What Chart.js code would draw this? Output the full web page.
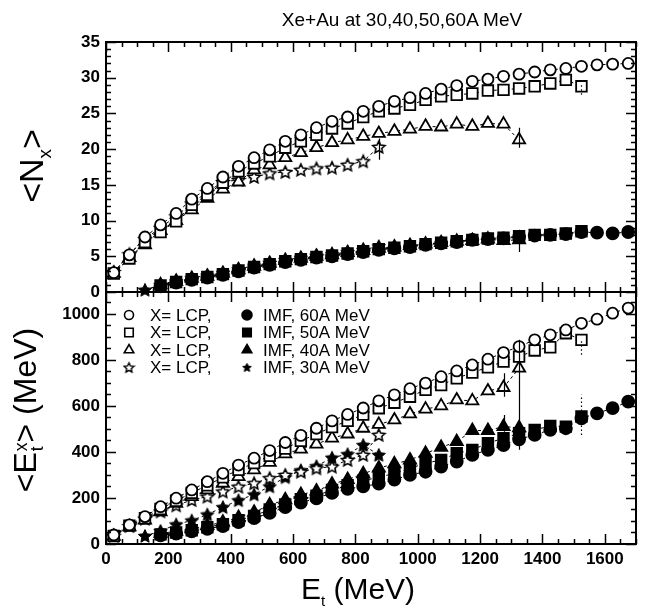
<!DOCTYPE html>
<html>
<head>
<meta charset="utf-8">
<script src="https://cdn.jsdelivr.net/npm/chart.js@4.4.0/dist/chart.umd.min.js"></script>
<style>
  body { margin: 0; background: #fff; }
  #wrap { position: relative; width: 655px; height: 610px; overflow: hidden;
          font-family: 'Liberation Sans', Arial, sans-serif; color: #000; }
  #wrap canvas { position: absolute; left: 0; top: 0; }
  .txt { position: absolute; white-space: nowrap; line-height: 1; }
  .rot { transform: translate(-50%, -50%) rotate(-90deg); }
  .ss { display: inline-block; vertical-align: -0.42em; font-size: 0.55em; line-height: 0.95; text-align: left; margin-left: 0.05em; }
  .ss span { display: block; }
</style>
</head>
<body>
<div id="wrap">
  <canvas id="bot" width="655" height="610"></canvas>
  <canvas id="top" width="655" height="310"></canvas>
  <div class="txt" style="left:402px; top:10px; font-size:19px; transform:translateX(-50%);">Xe+Au at 30,40,50,60A MeV</div>
  <div class="txt rot" style="left:34px; top:166px; font-size:34px;">&lt;N<sub style="font-size:0.55em;">x</sub>&gt;</div>
  <div class="txt rot" style="left:28px; top:410px; font-size:32px;">&lt;E<span class="ss"><span>x</span><span>t</span></span>&gt; (MeV)</div>
  <div class="txt" style="left:358px; top:574px; font-size:30px; transform:translateX(-50%);">E<sub style="font-size:0.5em;">t</sub> (MeV)</div>
</div>
<script>
// ---- data ----
const energies = [25, 75, 125, 175, 225, 275, 325, 375, 425, 475, 525, 575, 625, 675, 725, 775, 825,
                  875, 925, 975, 1025, 1075, 1125, 1175, 1225, 1275, 1325, 1375, 1425, 1475, 1525, 1575, 1625, 1675];

// <N_x>, LCP (open symbols)
const lcpN60 = [2.7, 5.2, 7.7, 9.4, 11.0, 13.0, 14.5, 16.1, 17.6, 18.8, 19.9, 21.1, 22.0, 23.0, 23.9, 24.5, 25.3,
                26.0, 26.7, 27.2, 27.8, 28.4, 28.9, 29.5, 29.8, 30.2, 30.5, 30.8, 31.1, 31.3, 31.6, 31.8, 31.9, 32.0];
const lcpN50 = [2.6, 4.7, 7.0, 8.4, 9.9, 12.2, 13.6, 15.3, 16.9, 18.0, 19.0, 20.2, 21.1, 22.0, 22.9, 23.6, 24.5,
                25.3, 25.7, 26.2, 26.9, 27.4, 27.6, 27.8, 28.2, 28.3, 28.5, 28.8, 29.2, 29.7, 28.8];
const lcpN40 = [2.6, 4.8, 6.6, 8.6, 10.0, 11.5, 13.1, 14.4, 15.4, 17.1, 17.8, 18.8, 19.5, 20.2, 20.9, 21.3, 21.8,
                22.2, 22.5, 22.8, 23.2, 23.1, 23.5, 23.2, 23.6, 23.5, 21.3];
const lcpN30 = [2.8, 5.3, 7.4, 9.0, 10.6, 12.4, 14.0, 15.4, 15.7, 16.1, 16.6, 16.8, 17.1, 17.3, 17.4, 17.8, 18.3, 20.3];

// <N_x>, IMF (filled symbols)
const imfN60 = [null, null, null, 0.8, 1.3, 1.7, 2.0, 2.4, 2.9, 3.4, 3.8, 4.2, 4.5, 4.8, 5.0, 5.3, 5.6,
                5.9, 6.1, 6.3, 6.6, 6.8, 7.0, 7.3, 7.4, 7.5, 7.7, 7.9, 8.0, 8.1, 8.4, 8.3, 8.2, 8.4];
const imfN50 = [null, null, null, 0.9, 1.4, 1.8, 2.1, 2.5, 3.0, 3.5, 3.9, 4.3, 4.6, 4.9, 5.1, 5.4, 5.7,
                6.0, 6.2, 6.4, 6.7, 6.9, 7.1, 7.3, 7.5, 7.6, 7.8, 8.0, 8.0, 8.2, 8.5];
const imfN40 = [null, null, null, 1.0, 1.5, 1.9, 2.2, 2.6, 3.1, 3.6, 4.0, 4.4, 4.7, 5.0, 5.2, 5.5, 5.8,
                6.1, 6.3, 6.5, 6.7, 6.9, 7.1, 7.2, 7.4, 7.2, 7.3];
const imfN30 = [null, null, 0.3, 1.0, 1.5, 2.0, 2.3, 2.7, 3.2, 3.7, 4.1, 4.5, 4.8, 5.1, 5.3, 5.6, 5.9, 6.4];

// <E_t^x> (MeV), LCP
const lcpE60 = [39, 83, 119, 162, 199, 235, 271, 307, 343, 373, 406, 441, 472, 503, 535, 563, 591,
                622, 648, 675, 699, 727, 752, 778, 803, 832, 858, 887, 909, 930, 959, 977, 1003, 1025];
const lcpE50 = [35, 80, 112, 152, 188, 222, 255, 290, 322, 352, 383, 415, 448, 478, 508, 535, 562,
                590, 614, 640, 670, 691, 720, 745, 768, 793, 814, 841, 855, 916, 887];
const lcpE40 = [33, 75, 104, 140, 177, 206, 235, 264, 293, 322, 355, 392, 412, 434, 460, 478, 503,
                520, 539, 565, 586, 600, 626, 622, 665, 680, 764];
const lcpE30 = [36, 78, 110, 142, 168, 191, 206, 228, 249, 264, 286, 300, 314, 329, 336, 365, 387, 474];

// <E_t^x> (MeV), IMF
const imfE60 = [null, null, null, 38, 45, 55, 66, 78, 95, 112, 135, 160, 180, 198, 222, 240, 250,
                262, 280, 300, 314, 336, 358, 387, 409, 430, 455, 474, 496, 503, 546, 568, 590, 619];
const imfE50 = [null, null, null, 42, 50, 60, 73, 86, 103, 122, 150, 172, 195, 210, 235, 255, 275,
                290, 307, 329, 351, 365, 394, 409, 438, 460, 481, 496, 513, 510, 554];
const imfE40 = [null, null, null, 46, 55, 66, 80, 95, 115, 138, 170, 192, 215, 230, 260, 280, 305,
                330, 348, 365, 394, 420, 445, 493, 493, 510, 505];
const imfE30 = [null, null, 35, 56, 85, 102, 128, 160, 190, 215, 250, 290, 320, 338, 375, 390, 430, 387];

// error bars: [E, low, high]
const errTop = [[875, 18.5, 21.5], [1325, 20.2, 23.0], [1325, 5.6, 8.7]];
const errTopDotted = [[1525, 27.6, 29.3], [1525, 7.5, 9.1]];
const errBot = [[1275, 640, 742], [1325, 409, 887], [1275, 488, 561]];
const errBotDotted = [[1525, 822, 887], [1525, 474, 648]];

const legendRows = [
  ['X= LCP,', 'IMF, 60A MeV'],
  ['X= LCP,', 'IMF, 50A MeV'],
  ['X= LCP,', 'IMF, 40A MeV'],
  ['X= LCP,', 'IMF, 30A MeV'],
];

// ---- helpers ----
Chart.defaults.font.family = "'Liberation Sans', Arial, sans-serif";
Chart.defaults.color = '#000';

function starImg(size, filled, lw) {
  const c = document.createElement('canvas');
  c.width = c.height = size;
  const g = c.getContext('2d');
  const R = size / 2 - lw, r = R * 0.48, cx = size / 2, cy = size / 2 + R * 0.08;
  g.beginPath();
  for (let i = 0; i < 10; i++) {
    const rad = i % 2 ? r : R;
    const a = -Math.PI / 2 + i * Math.PI / 5;
    g.lineTo(cx + rad * Math.cos(a), cy + rad * Math.sin(a));
  }
  g.closePath();
  g.fillStyle = filled ? '#000' : '#fff';
  g.fill();
  g.lineJoin = 'miter';
  g.lineWidth = lw;
  g.strokeStyle = '#000';
  g.stroke();
  return c;
}
const starOpen = starImg(16, false, 1.6);
const starFull = starImg(16, true, 1);
const starOpenSm = starImg(13, false, 1.4);
const starFullSm = starImg(11, true, 1);

const toXY = vals => vals.map((v, i) => ({ x: energies[i], y: v })).filter(p => p.y != null);

// marker styles: [pointStyle, radius, filled]
const MARK = {
  c60: ['circle', 5.5, false], s50: ['rect', 7.5, false], t40: ['triangle', 7, false], st30: [starOpen, 7, false],
  C60: ['circle', 6, true], S50: ['rect', 7.5, true], T40: ['triangle', 7, true], ST30: [starFull, 7, true],
};

function ds(vals, key) {
  const [style, r, filled] = MARK[key];
  return {
    data: toXY(vals),
    showLine: true,
    borderColor: '#000',
    borderWidth: 1,
    borderDash: [3, 3],
    pointStyle: style,
    pointRadius: r,
    pointBorderWidth: 1.8,
    pointBorderColor: '#000',
    pointBackgroundColor: filled ? '#000' : '#fff',
    clip: false,
  };
}

// box with inward major/minor ticks on all four sides, plus error bars
const framePlugin = {
  id: 'frame',
  afterDraw(chart, args, opts) {
    const { ctx, chartArea: a } = chart;
    const x = chart.scales.x, y = chart.scales.y;
    ctx.save();
    ctx.strokeStyle = '#000';
    ctx.lineWidth = 1.5;
    ctx.beginPath();
    for (let v = 0; v <= 1700; v += 50) {
      const px = Math.round(x.getPixelForValue(v)) + 0.5;
      const len = v % 200 === 0 ? 10 : 5;
      ctx.moveTo(px, a.bottom); ctx.lineTo(px, a.bottom - len);
      ctx.moveTo(px, a.top); ctx.lineTo(px, a.top + len);
    }
    for (let v = 0; v <= opts.top; v += opts.minor) {
      const py = Math.round(y.getPixelForValue(v)) + 0.5;
      const len = v % opts.major === 0 ? 10 : 5;
      ctx.moveTo(a.left, py); ctx.lineTo(a.left + len, py);
      ctx.moveTo(a.right, py); ctx.lineTo(a.right - len, py);
    }
    ctx.stroke();

    const bar = (list, dash) => {
      ctx.setLineDash(dash);
      ctx.lineWidth = 1.2;
      ctx.beginPath();
      list.forEach(([e, lo, hi]) => {
        const px = Math.round(x.getPixelForValue(e)) + 0.5;
        ctx.moveTo(px, y.getPixelForValue(lo));
        ctx.lineTo(px, y.getPixelForValue(hi));
      });
      ctx.stroke();
    };
    bar(opts.solid || [], []);
    bar(opts.dotted || [], [1.5, 2.5]);
    ctx.setLineDash([]);

    ctx.lineWidth = 2;
    ctx.strokeRect(a.left, a.top, a.right - a.left, a.bottom - a.top);
    ctx.restore();
  },
};

const legendPlugin = {
  id: 'lcpLegend',
  afterDraw(chart) {
    const ctx = chart.ctx;
    const open = [['circle', 4.5], ['rect', 6], ['triangle', 5.5], [starOpenSm, 6]];
    const full = [['circle', 5], ['rect', 6], ['triangle', 5.5], [starFullSm, 5]];
    ctx.save();
    ctx.font = "17px 'Liberation Sans', Arial, sans-serif";
    ctx.textBaseline = 'middle';
    ctx.strokeStyle = '#000';
    legendRows.forEach((row, i) => {
      const yy = 315 + i * 17.5;
      ctx.lineWidth = 1.6;
      ctx.fillStyle = '#fff';
      Chart.helpers.drawPoint(ctx, { pointStyle: open[i][0], radius: open[i][1], borderWidth: 1.6, rotation: 0 }, 129, yy);
      ctx.fillStyle = '#000';
      Chart.helpers.drawPoint(ctx, { pointStyle: full[i][0], radius: full[i][1], borderWidth: 1, rotation: 0 }, 247, yy);
      ctx.fillText(row[0], 150, yy + 1);
      ctx.fillText(row[1], 263, yy + 1);
    });
    ctx.restore();
  },
};

const tickFont = { size: 17, weight: 'bold' };
const plain = v => String(v);

// ---- top panel: <N_x> ----
new Chart(document.getElementById('top'), {
  type: 'scatter',
  data: {
    datasets: [
      ds(lcpN60, 'c60'), ds(lcpN50, 's50'), ds(lcpN40, 't40'), ds(lcpN30, 'st30'),
      ds(imfN60, 'C60'), ds(imfN50, 'S50'), ds(imfN40, 'T40'), ds(imfN30, 'ST30'),
    ],
  },
  options: {
    responsive: false, animation: false, devicePixelRatio: 1,
    layout: { padding: { top: 42, right: 19, bottom: 18, left: 0 } },
    plugins: { legend: { display: false }, tooltip: { enabled: false },
               frame: { top: 35, minor: 1, major: 5, solid: errTop, dotted: errTopDotted } },
    scales: {
      x: { type: 'linear', min: 0, max: 1700, display: false },
      y: { min: 0, max: 35, grid: { display: false, drawTicks: false }, border: { display: false },
           ticks: { stepSize: 5, padding: 6, font: tickFont, callback: plain },
           afterFit: s => { s.width = 106; } },
    },
  },
  plugins: [framePlugin],
});

// ---- bottom panel: <E_t^x> ----
new Chart(document.getElementById('bot'), {
  type: 'scatter',
  data: {
    datasets: [
      ds(lcpE60, 'c60'), ds(lcpE50, 's50'), ds(lcpE40, 't40'), ds(lcpE30, 'st30'),
      ds(imfE60, 'C60'), ds(imfE50, 'S50'), ds(imfE40, 'T40'), ds(imfE30, 'ST30'),
    ],
  },
  options: {
    responsive: false, animation: false, devicePixelRatio: 1,
    layout: { padding: { top: 292, right: 19, bottom: 0, left: 0 } },
    plugins: { legend: { display: false }, tooltip: { enabled: false },
               frame: { top: 1095, minor: 50, major: 200, solid: errBot, dotted: errBotDotted } },
    scales: {
      x: { type: 'linear', min: 0, max: 1700,
           grid: { display: false, drawTicks: false }, border: { display: false },
           ticks: { stepSize: 200, includeBounds: false, autoSkip: false, maxRotation: 0, padding: 5,
                    font: tickFont, callback: plain },
           afterFit: s => { s.height = 66; } },
      y: { min: 0, max: 1095, grid: { display: false, drawTicks: false }, border: { display: false },
           ticks: { stepSize: 200, includeBounds: false, padding: 6, font: tickFont, callback: plain },
           afterFit: s => { s.width = 106; } },
    },
  },
  plugins: [framePlugin, legendPlugin],
});
</script>
</body>
</html>
